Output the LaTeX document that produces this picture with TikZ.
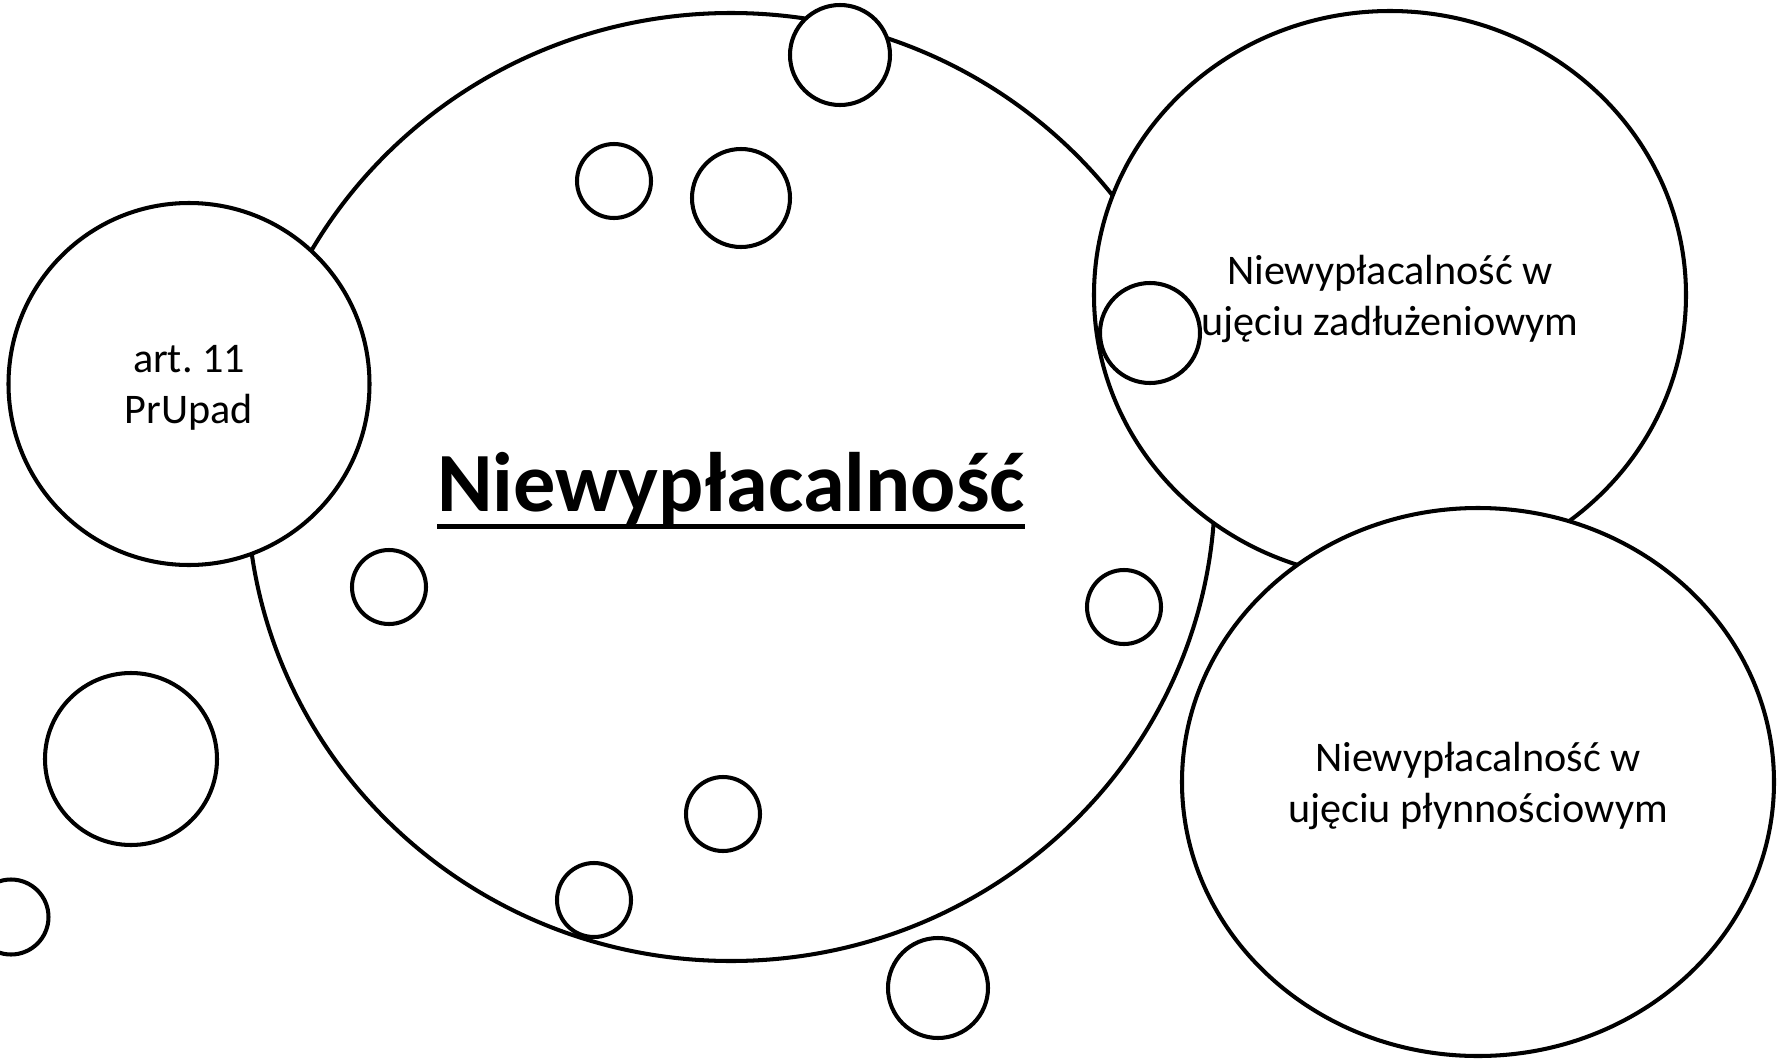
\documentclass[tikz,border=0pt]{standalone}
\usepackage{fontspec}
\setmainfont{Carlito}
\usetikzlibrary{shapes.geometric}
\newcommand{\thickul}[1]{\setbox0\hbox{#1}\rlap{\rule[-4.9pt]{\wd0}{1.4pt}}\box0}

\begin{document}
\begin{tikzpicture}[line width=1.15pt,
    bubble/.style = {draw, circle, inner sep=0pt},
    blob/.style = {draw, ellipse, fill=white, inner sep=0pt},
    blobtext/.style = {align=center, inner sep=0pt, yshift=-0.04cm,
      font=\fontsize{12}{14.4}\selectfont}]

  \useasboundingbox (0,0) rectangle (17.77,-10.59);

  % main bubble
  \node[blob, minimum width=9.68cm, minimum height=9.48cm,
    label={[blobtext, font=\fontsize{24}{29}\selectfont\bfseries]center:\thickul{Niewypłacalność}}]
    (core) at (7.31,-4.87) {};

  \node[blob, minimum width=3.61cm, minimum height=3.62cm,
    label={[blobtext]center:{art.\ 11\\PrUpad}}] (art) at (1.89,-3.84) {};

  \node[blob, minimum width=5.92cm, minimum height=5.68cm,
    label={[blobtext]center:{Niewypłacalność w\\ujęciu zadłużeniowym}}] (debt) at (13.90,-2.95) {};

  \node[blob, minimum width=5.92cm, minimum height=5.48cm,
    label={[blobtext]center:{Niewypłacalność w\\ujęciu płynnościowym}}] (liq) at (14.78,-7.82) {};

  % small bubbles
  \node[bubble, fill=white, minimum size=1cm] (b1) at (8.40,-0.55) {};

  \foreach \x/\y/\d [count=\i from 2] in {6.14/-1.81/0.74, 7.41/-1.98/0.98,
      11.50/-3.33/1.00, 3.89/-5.87/0.74, 11.24/-6.07/0.74, 1.31/-7.59/1.72,
      7.23/-8.14/0.74, 5.94/-9.00/0.74, 9.38/-9.88/1.00, 0.11/-9.17/0.75}
    \node[bubble, minimum size=\d cm] (b\i) at (\x,\y) {};

\end{tikzpicture}
\end{document}
